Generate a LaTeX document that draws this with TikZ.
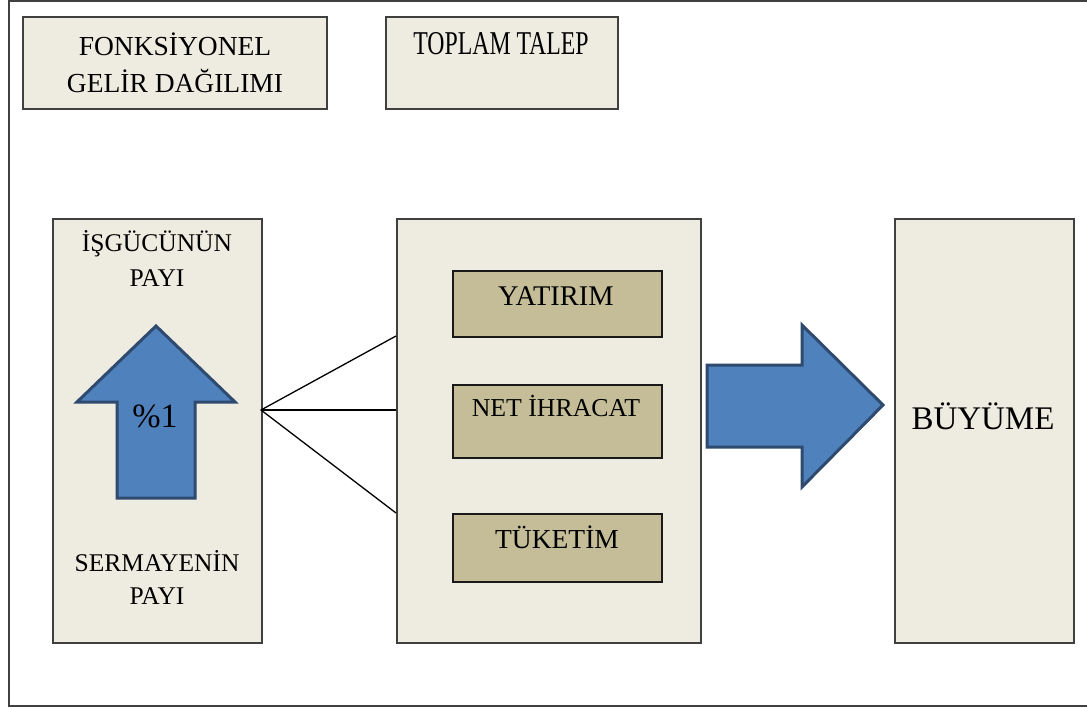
\documentclass[tikz,border=0pt]{standalone}
\usepackage{fontspec}
\usepackage{graphicx}
\setmainfont{Liberation Serif}
\definecolor{boxfill}{HTML}{EEECE1}
\definecolor{tanfill}{HTML}{C4BD97}
\definecolor{arrowfill}{HTML}{4F81BD}
\definecolor{arrowdraw}{HTML}{2E4A6E}
\definecolor{edgecol}{HTML}{404040}
\begin{document}
\begin{tikzpicture}[x=1pt,y=-1pt,
  outerbox/.style={draw=edgecol,line width=2pt,fill=boxfill,anchor=north west,inner sep=0pt},
  innerbox/.style={draw=black!90,line width=1.5pt,fill=tanfill,anchor=north west,inner sep=0pt},
  lbl/.style={anchor=base,inner sep=0pt,text=black},
  bigarrow/.style={fill=arrowfill,draw=arrowdraw,line width=3pt,line join=miter},
  conn/.style={draw=black,line width=1.3pt},
  frame/.style={draw=edgecol,line width=2pt}]
\useasboundingbox (0,0) rectangle (1087,709);

% outer frame (open on the right)
\draw[frame] (1087,1) -- (9,1) -- (9,706) -- (1087,706);

% top boxes
\node[outerbox,minimum width=304pt,minimum height=92pt,align=center,
      font=\fontsize{27.5}{37}\selectfont] (fgd) at (22,16) {FONKSİYONEL\\GELİR DAĞILIMI};
\node[outerbox,minimum width=232pt,minimum height=92pt] (tt) at (385,16) {};
\node[lbl,font=\fontsize{26}{30}\selectfont] (ttl) at (501,55) {\scalebox{0.915}[1.28]{TOPLAM TALEP}};

% left box
\node[outerbox,minimum width=209pt,minimum height=424pt] (lbox) at (52,218) {};
\node[lbl,font=\fontsize{25.5}{30}\selectfont] (isg) at (157,251) {İŞGÜCÜNÜN};
\node[lbl,font=\fontsize{25.5}{30}\selectfont] (isgp) at (157,286) {PAYI};
\node[lbl,font=\fontsize{25.5}{30}\selectfont] (ser) at (157,571) {SERMAYENİN};
\node[lbl,font=\fontsize{25.5}{30}\selectfont] (serp) at (157,604) {PAYI};

% up arrow
\draw[bigarrow] (117,498) -- (117,402) -- (77,402) -- (156,326) -- (235,402) -- (195,402) -- (195,498) -- cycle;
\node[lbl,font=\fontsize{34}{38}\selectfont] (pct) at (155,427) {\%1};

% middle box
\node[outerbox,minimum width=304pt,minimum height=424pt] (mbox) at (396,218) {};
\node[innerbox,minimum width=209pt,minimum height=66pt] (yat) at (452,270) {};
\node[lbl,font=\fontsize{28.5}{30}\selectfont] (yatl) at (556,305) {YATIRIM};
\node[innerbox,minimum width=209pt,minimum height=73pt] (net) at (452,384) {};
\node[lbl,font=\fontsize{25.8}{30}\selectfont] (netl) at (556,416) {NET İHRACAT};
\node[innerbox,minimum width=209pt,minimum height=68pt] (tuk) at (452,513) {};
\node[lbl,font=\fontsize{27.5}{30}\selectfont] (tukl) at (557,548) {TÜKETİM};

% connectors
\coordinate (hub) at (261,410);
\coordinate (e1) at (396,336);
\coordinate (e2) at (396,410);
\coordinate (e3) at (396,513);
\draw[conn] (e1) -- (hub) -- (e3);
\draw[conn] (hub) -- (e2);

% right arrow
\draw[bigarrow] (707,365) -- (802,365) -- (802,325) -- (883,405) -- (802,487) -- (802,447) -- (707,447) -- cycle;

% right box
\node[outerbox,minimum width=179pt,minimum height=424pt] (bbox) at (894,218) {};
\node[lbl,font=\fontsize{33}{38}\selectfont] (bbl) at (983,429) {BÜYÜME};
\end{tikzpicture}
\end{document}
